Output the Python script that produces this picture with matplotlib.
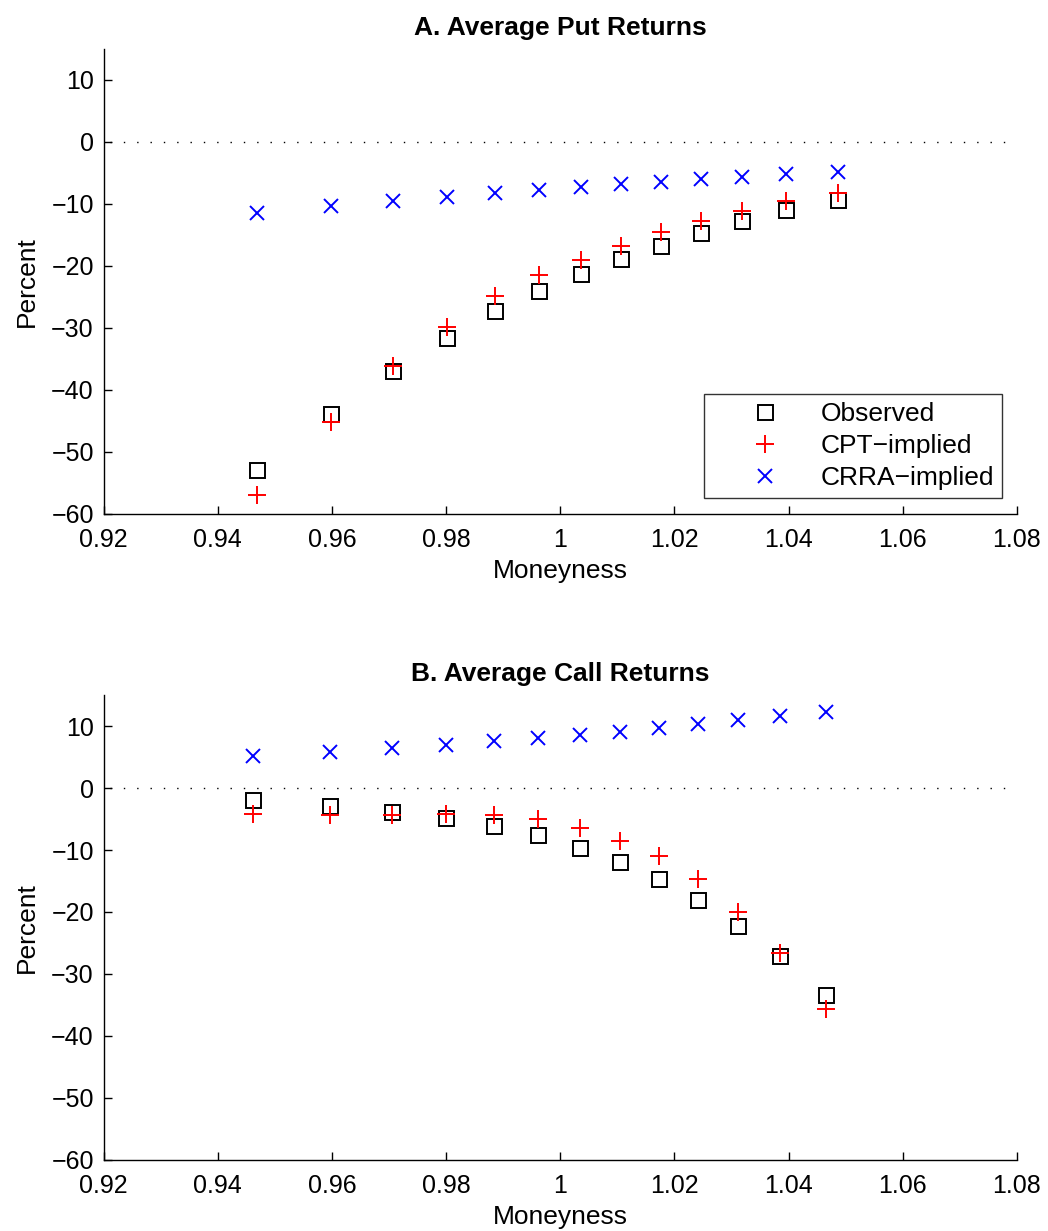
import numpy as np
import matplotlib
matplotlib.use('Agg')
import matplotlib.pyplot as plt
from matplotlib.ticker import FuncFormatter

plt.rcParams['font.family'] = ['Liberation Sans', 'DejaVu Sans']

# Panel A: puts
put_m = [0.9469, 0.9599, 0.9707, 0.9801, 0.9885, 0.9963, 1.0036, 1.0107,
         1.0176, 1.0246, 1.0318, 1.0396, 1.0487]
put_obs = [-52.9, -43.9, -36.9, -31.6, -27.3, -24.0, -21.3, -18.9,
           -16.7, -14.7, -12.8, -11.0, -9.4]
put_cpt = [-57.0, -45.1, -36.1, -29.8, -24.8, -21.5, -19.0, -16.7,
           -14.5, -12.7, -11.1, -9.6, -8.2]
put_crra = [-11.5, -10.4, -9.6, -8.9, -8.3, -7.7, -7.3, -6.8,
            -6.5, -6.0, -5.6, -5.2, -4.8]

# Panel B: calls
call_m = [0.9462, 0.9597, 0.9706, 0.9800, 0.9884, 0.9961, 1.0034, 1.0104,
          1.0173, 1.0242, 1.0312, 1.0385, 1.0466]
call_obs = [-1.9, -2.9, -3.8, -4.9, -6.1, -7.6, -9.6, -12.0,
            -14.6, -18.0, -22.2, -27.1, -33.4]
call_cpt = [-4.2, -4.4, -4.3, -4.2, -4.3, -5.0, -6.5, -8.6,
            -11.0, -14.7, -20.0, -26.6, -35.6]
call_crra = [5.1, 5.8, 6.4, 7.0, 7.6, 8.1, 8.6, 9.1,
             9.7, 10.3, 10.9, 11.6, 12.2]

xticks = [0.92, 0.94, 0.96, 0.98, 1.00, 1.02, 1.04, 1.06, 1.08]
yticks = [-60, -50, -40, -30, -20, -10, 0, 10]

fig = plt.figure(figsize=(10.48, 12.31), dpi=100)
ax1 = fig.add_axes([0.0988, 0.5825, 0.8716, 0.3777])
ax2 = fig.add_axes([0.0988, 0.0577, 0.8716, 0.3777])

panels = [
    (ax1, 'A. Average Put Returns', put_m, put_obs, put_cpt, put_crra),
    (ax2, 'B. Average Call Returns', call_m, call_obs, call_cpt, call_crra),
]

for ax, title, m, obs, cpt, crra in panels:
    # dotted zero line
    ax.plot([0.9212, 1.08], [0, 0], color='black', linestyle=(0, (1, 8.6)), linewidth=1.0)
    ax.plot(m, obs, linestyle='none', marker='s', markersize=10.8,
            markerfacecolor='none', markeredgecolor='black', markeredgewidth=1.4,
            label='Observed')
    ax.plot(m, cpt, linestyle='none', marker='+', markersize=13,
            color='red', markeredgewidth=1.4, label='CPT\u2212implied')
    ax.plot(m, crra, linestyle='none', marker='x', markersize=9.5,
            color='blue', markeredgewidth=1.4, label='CRRA\u2212implied')

    ax.set_xlim(0.92, 1.08)
    ax.set_ylim(-60, 15)
    ax.set_xticks(xticks)
    ax.set_yticks(yticks)
    ax.xaxis.set_major_formatter(FuncFormatter(lambda v, p: '%g' % round(v, 2)))
    ax.spines['top'].set_visible(False)
    ax.spines['right'].set_visible(False)
    ax.spines['left'].set_linewidth(1.0)
    ax.spines['bottom'].set_linewidth(1.0)
    ax.tick_params(direction='in', length=6, width=1.0, labelsize=18)
    ax.tick_params(axis='x', pad=10)
    ax.tick_params(axis='y', pad=7)
    ax.set_xlabel('Moneyness', fontsize=19, labelpad=5)
    ax.set_ylabel('Percent', fontsize=19, labelpad=9)
    ax.set_title(title, fontsize=19, fontweight='bold', pad=10)

leg = ax1.legend(loc='lower right', bbox_to_anchor=(0.9833, 0.0344), fontsize=19,
                 frameon=True, fancybox=False, borderaxespad=0.0,
                 handlelength=4.0, handletextpad=0.1, borderpad=0.3,
                 labelspacing=0.3)
leg.get_frame().set_edgecolor('black')
leg.get_frame().set_linewidth(1.0)

fig.savefig('out.png', dpi=100)
